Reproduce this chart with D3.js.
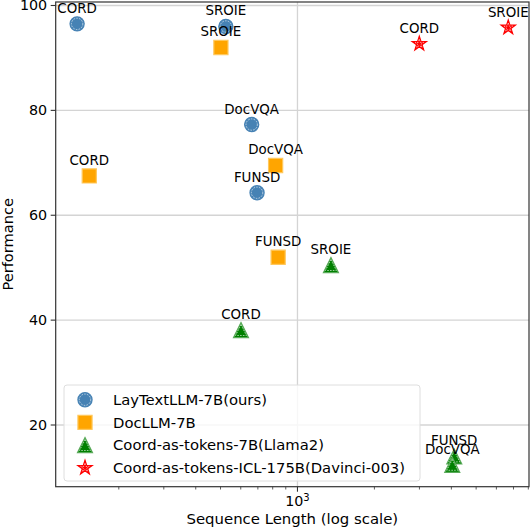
<!DOCTYPE html>
<html>
<head>
<meta charset="utf-8">
<script src="https://cdn.jsdelivr.net/npm/d3@7"></script>
<style>
  body { margin: 0; background: #fff; }
  text { font-family: "DejaVu Sans", sans-serif; }
</style>
</head>
<body>
<div class="chart"></div>
<script>
const width = 532;
const height = 528;
const margin = { top: 2, right: 3, bottom: 41.3, left: 55.7 };

// model series
const models = ['LayTextLLM-7B(ours)', 'DocLLM-7B', 'Coord-as-tokens-7B(Llama2)', 'Coord-as-tokens-ICL-175B(Davinci-003)'];

const layTextNames = ['CORD', 'SROIE', 'DocVQA', 'FUNSD'];
const layTextLength = [138, 527, 665, 698];
const layTextPerf = [96.4, 95.9, 77.2, 64.2];

const docLLMNames = ['CORD', 'SROIE', 'DocVQA', 'FUNSD'];
const docLLMLength = [154, 504, 825, 844];
const docLLMPerf = [67.4, 91.9, 69.4, 51.9];

const coord7bNames = ['SROIE', 'CORD', 'FUNSD', 'DocVQA'];
const coord7bLength = [1358, 604, 4125, 4051];
const coord7bPerf = [50.4, 38.0, 13.9, 12.3];

const iclNames = ['CORD', 'SROIE'];
const iclLength = [3010, 6708];
const iclPerf = [92.6, 95.7];

const yTicks = [20, 40, 60, 80, 100];
const xMajorTicks = [1000];
const xMinorTicks = [200, 300, 400, 500, 600, 700, 800, 900, 2000, 3000, 4000, 5000, 6000, 7000, 8000];

const svg = d3.select('.chart')
  .append('svg')
  .attr('width', width)
  .attr('height', height);

const x = d3.scaleLog()
  .domain([113.8, 8086])
  .range([margin.left, width - margin.right]);

const y = d3.scaleLinear()
  .domain([8.14, 100.57])
  .range([height - margin.bottom, margin.top]);

// gridlines
svg.append('g')
  .attr('transform', `translate(0, ${height - margin.bottom})`)
  .call(d3.axisBottom(x).tickValues(xMajorTicks).tickSize(-(height - margin.top - margin.bottom)).tickFormat(''))
  .call((g) => g.select('.domain').remove())
  .call((g) => g.selectAll('line').attr('stroke', '#d4d4d4').attr('stroke-width', 1.3));

svg.append('g')
  .attr('transform', `translate(${margin.left}, 0)`)
  .call(d3.axisLeft(y).tickValues(yTicks).tickSize(-(width - margin.left - margin.right)).tickFormat(''))
  .call((g) => g.select('.domain').remove())
  .call((g) => g.selectAll('line').attr('stroke', '#d4d4d4').attr('stroke-width', 1.3));

// marker shapes
const triangleUp = {
  draw(ctx, size) {
    const r = Math.sqrt(size) / 2;
    ctx.moveTo(0, -r);
    ctx.lineTo(r, r);
    ctx.lineTo(-r, r);
    ctx.closePath();
  }
};

const styles = [
  { type: d3.symbolCircle, size: 158, fill: '#4682b4', edge: '#4682b4', inner: 0.8 },
  { type: d3.symbolSquare, size: 200, fill: '#ffa500', edge: '#ffc85c', inner: 0 },
  { type: triangleUp, size: 225, fill: '#008000', edge: '#5aaa5a', inner: 0.72 },
  { type: d3.symbolStar, size: 63, fill: '#ff0000', edge: '#ff0000', inner: 0.6 }
];

function drawMarker(g, cx, cy, style) {
  g.append('path')
    .attr('transform', `translate(${cx}, ${cy})`)
    .attr('d', d3.symbol().type(style.type).size(style.size)())
    .attr('fill', style.fill)
    .attr('stroke', style.edge)
    .attr('stroke-width', 1.2);
  if (style.inner > 0) {
    g.append('path')
      .attr('transform', `translate(${cx}, ${cy})`)
      .attr('d', d3.symbol().type(style.type).size(style.size * style.inner * style.inner)())
      .attr('fill', 'none')
      .attr('stroke', '#fff')
      .attr('stroke-opacity', 0.75)
      .attr('stroke-width', 0.8)
      .attr('stroke-dasharray', '1.6,1.2');
  }
}

const series = [
  [layTextNames, layTextLength, layTextPerf],
  [docLLMNames, docLLMLength, docLLMPerf],
  [coord7bNames, coord7bLength, coord7bPerf],
  [iclNames, iclLength, iclPerf]
];

const points = svg.append('g');
const labels = svg.append('g');

series.forEach(([names, lengths, perfs], s) => {
  names.forEach((name, i) => {
    drawMarker(points, x(lengths[i]), y(perfs[i]), styles[s]);
    labels.append('text')
      .attr('x', x(lengths[i]))
      .attr('y', y(perfs[i]) - 11)
      .attr('text-anchor', 'middle')
      .attr('font-size', 13.4)
      .attr('fill', '#000')
      .text(name);
  });
});

// axes
const yAxis = svg.append('g')
  .attr('transform', `translate(${margin.left}, 0)`)
  .call(d3.axisLeft(y).tickValues(yTicks).tickSize(5).tickPadding(3.5));
yAxis.select('.domain').remove();
yAxis.selectAll('line').attr('stroke', '#333').attr('stroke-width', 1.1);
yAxis.selectAll('text').attr('font-size', 14.3).attr('fill', '#000').attr('font-family', 'DejaVu Sans');

const xAxis = svg.append('g')
  .attr('transform', `translate(0, ${height - margin.bottom})`)
  .call(d3.axisBottom(x).tickValues(xMajorTicks).tickSize(5).tickPadding(3.5).tickFormat(''));
xAxis.select('.domain').remove();
xAxis.selectAll('line').attr('stroke', '#333').attr('stroke-width', 1.1);
xAxis.selectAll('.tick').append('text')
  .attr('y', 19.5)
  .attr('text-anchor', 'middle')
  .attr('font-size', 14.3)
  .attr('fill', '#000')
  .attr('font-family', 'DejaVu Sans')
  .call((t) => {
    t.append('tspan').text((d) => '10');
    t.append('tspan').attr('dy', -5.5).attr('font-size', 10).text((d) => Math.round(Math.log10(d)));
  });

const xMinor = svg.append('g')
  .attr('transform', `translate(0, ${height - margin.bottom})`)
  .call(d3.axisBottom(x).tickValues(xMinorTicks).tickSize(2.8).tickFormat(''));
xMinor.select('.domain').remove();
xMinor.selectAll('line').attr('stroke', '#333').attr('stroke-width', 0.8);

// spines
svg.append('rect')
  .attr('x', margin.left)
  .attr('y', margin.top)
  .attr('width', width - margin.left - margin.right)
  .attr('height', height - margin.top - margin.bottom)
  .attr('fill', 'none')
  .attr('stroke', '#333')
  .attr('stroke-width', 1.2);

// axis labels
svg.append('text')
  .attr('x', (margin.left + width - margin.right) / 2)
  .attr('y', 524)
  .attr('text-anchor', 'middle')
  .attr('font-size', 14.9)
  .text('Sequence Length (log scale)');

svg.append('text')
  .attr('transform', `translate(13, ${(margin.top + height - margin.bottom) / 2}) rotate(-90)`)
  .attr('text-anchor', 'middle')
  .attr('font-size', 14.6)
  .text('Performance');

// legend
const legend = svg.append('g');
legend.append('rect')
  .attr('x', 64)
  .attr('y', 385)
  .attr('width', 356)
  .attr('height', 96)
  .attr('rx', 3)
  .attr('fill', '#fff')
  .attr('fill-opacity', 0.8)
  .attr('stroke', '#dedede')
  .attr('stroke-width', 1);

models.forEach((m, i) => {
  const cy = 399.7 + i * 22.7;
  drawMarker(legend, 85, cy, styles[i]);
  legend.append('text')
    .attr('x', 113)
    .attr('y', cy + 5.2)
    .attr('font-size', 14.8)
    .attr('fill', '#000')
    .text(m);
});
</script>
</body>
</html>
